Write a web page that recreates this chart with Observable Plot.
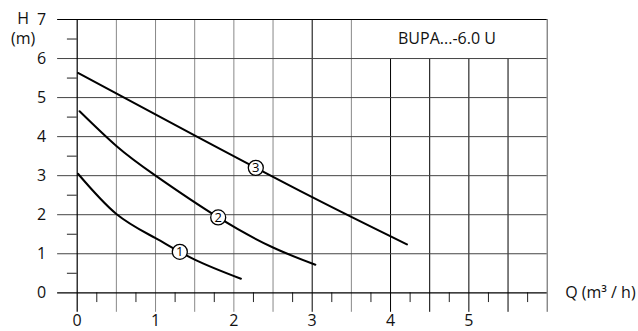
<!DOCTYPE html>
<html><head><meta charset="utf-8">
<script src="https://cdn.jsdelivr.net/npm/d3@7"></script>
<script src="https://cdn.jsdelivr.net/npm/@observablehq/plot@0.6"></script>
<style>
body{margin:0;background:#fff;}
svg{font-family:"Open Sans",sans-serif;}
</style></head><body><div id="chart"></div>
<script>
const xTicks = [0,1,2,3,4,5];
const yTicks = [0,1,2,3,4,5,6,7];
const yHalf = [0.5,1.5,2.5,3.5,4.5,5.5,6.5];
const xQuarter = [0.25,0.75,1.25,1.75,2.25,2.75,3.25,3.75,4.25,4.75,5.25,5.75];
const xGrid = [0.5,1,1.5,2,2.5,3,3.5,4,4.5,5,5.5,6];
const xGridShort = [4,4.5,5,5.5]; // stop below the title box
const title = "BUPA...-6.0 U";
const xLabel = "Q (m³ / h)";

const curve1 = [[0.01,3.05],[0.5,2.02],[1.0,1.40],[1.5,0.85],[2.09,0.36]];
const curve2 = [[0.03,4.65],[0.5,3.76],[1.0,3.0],[1.8,1.93],[2.5,1.16],[3.04,0.72]];
const curve3 = [[0.01,5.63],[1.51,4.02],[3.0,2.45],[4.21,1.24]];
const markers = [{q:1.31,h:1.05,n:"1"},{q:1.80,h:1.93,n:"2"},{q:2.28,h:3.2,n:"3"}];

const toRows = (arr,id) => arr.map(([q,h]) => ({q,h,id}));
const curves = [...toRows(curve1,1),...toRows(curve2,2),...toRows(curve3,3)];

const darkX = new Set([3,4,4.5,5,5.5]);

const chart = Plot.plot({
  width: 638, height: 331,
  marginLeft: 76.7, marginRight: 91.3, marginTop: 19, marginBottom: 38.7,
  x: {domain:[0,6]}, y: {domain:[0,7]},
  style: {fontFamily:"'Open Sans',sans-serif", fontSize:"16px", color:"#111", overflow:"visible"},
  marks: [
    Plot.ruleX(xGrid.filter(d => !xGridShort.includes(d)), {y1:-0.5, y2:7, stroke: d => darkX.has(d) ? "#000" : (d===6 ? "#555" : "#888"), strokeWidth:1, clip:false}),
    Plot.ruleX(xGridShort, {y1:-0.5, y2:6, stroke:"#000", strokeWidth:1, clip:false}),
    Plot.ruleX(xQuarter, {y1:-0.25, y2:0, stroke: "#222", strokeWidth:1, clip:false}),
    Plot.ruleY(yTicks.filter(d => d>0 && d<7), {x1:-0.25, x2:6, stroke:"#444", strokeWidth:1, clip:false}),
    Plot.ruleY([0,7], {x1:-0.25, x2:6, stroke:"#000", strokeWidth:1.2, clip:false}),
    Plot.ruleY(yHalf, {x1:-0.125, x2:0, stroke:"#222", strokeWidth:1, clip:false}),
    Plot.ruleX([0], {y1:-0.5, y2:7, stroke:"#000", strokeWidth:1.2, clip:false}),
    Plot.line(curves, {x:"q", y:"h", z:"id", stroke:"#000", strokeWidth:2, curve:"natural"}),
    Plot.dot(markers, {x:"q", y:"h", r:7.5, fill:"#fff", stroke:"#000", strokeWidth:1.3}),
    Plot.text(markers, {x:"q", y:"h", text:"n", fontSize:13, fill:"#000"}),
    Plot.axisX(xTicks, {tickSize:0, tickPadding:22, label:null, fontSize:16}),
    Plot.axisY(yTicks, {tickSize:0, tickPadding:31, label:null, fontSize:16}),
    Plot.text([title], {x:4.72, y:6.5, fontSize:16, fill:"#111"}),
    Plot.text([xLabel], {x:6, y:0, dx:18, textAnchor:"start", fontSize:16, fill:"#111"}),
    Plot.text(["H"], {x:0, y:7, dx:-54, dy:-1, fontSize:16, fill:"#111"}),
    Plot.text(["(m)"], {x:0, y:7, dx:-54, dy:19, fontSize:16, fill:"#111"})
  ]
});
document.getElementById("chart").appendChild(chart);
</script></body></html>
